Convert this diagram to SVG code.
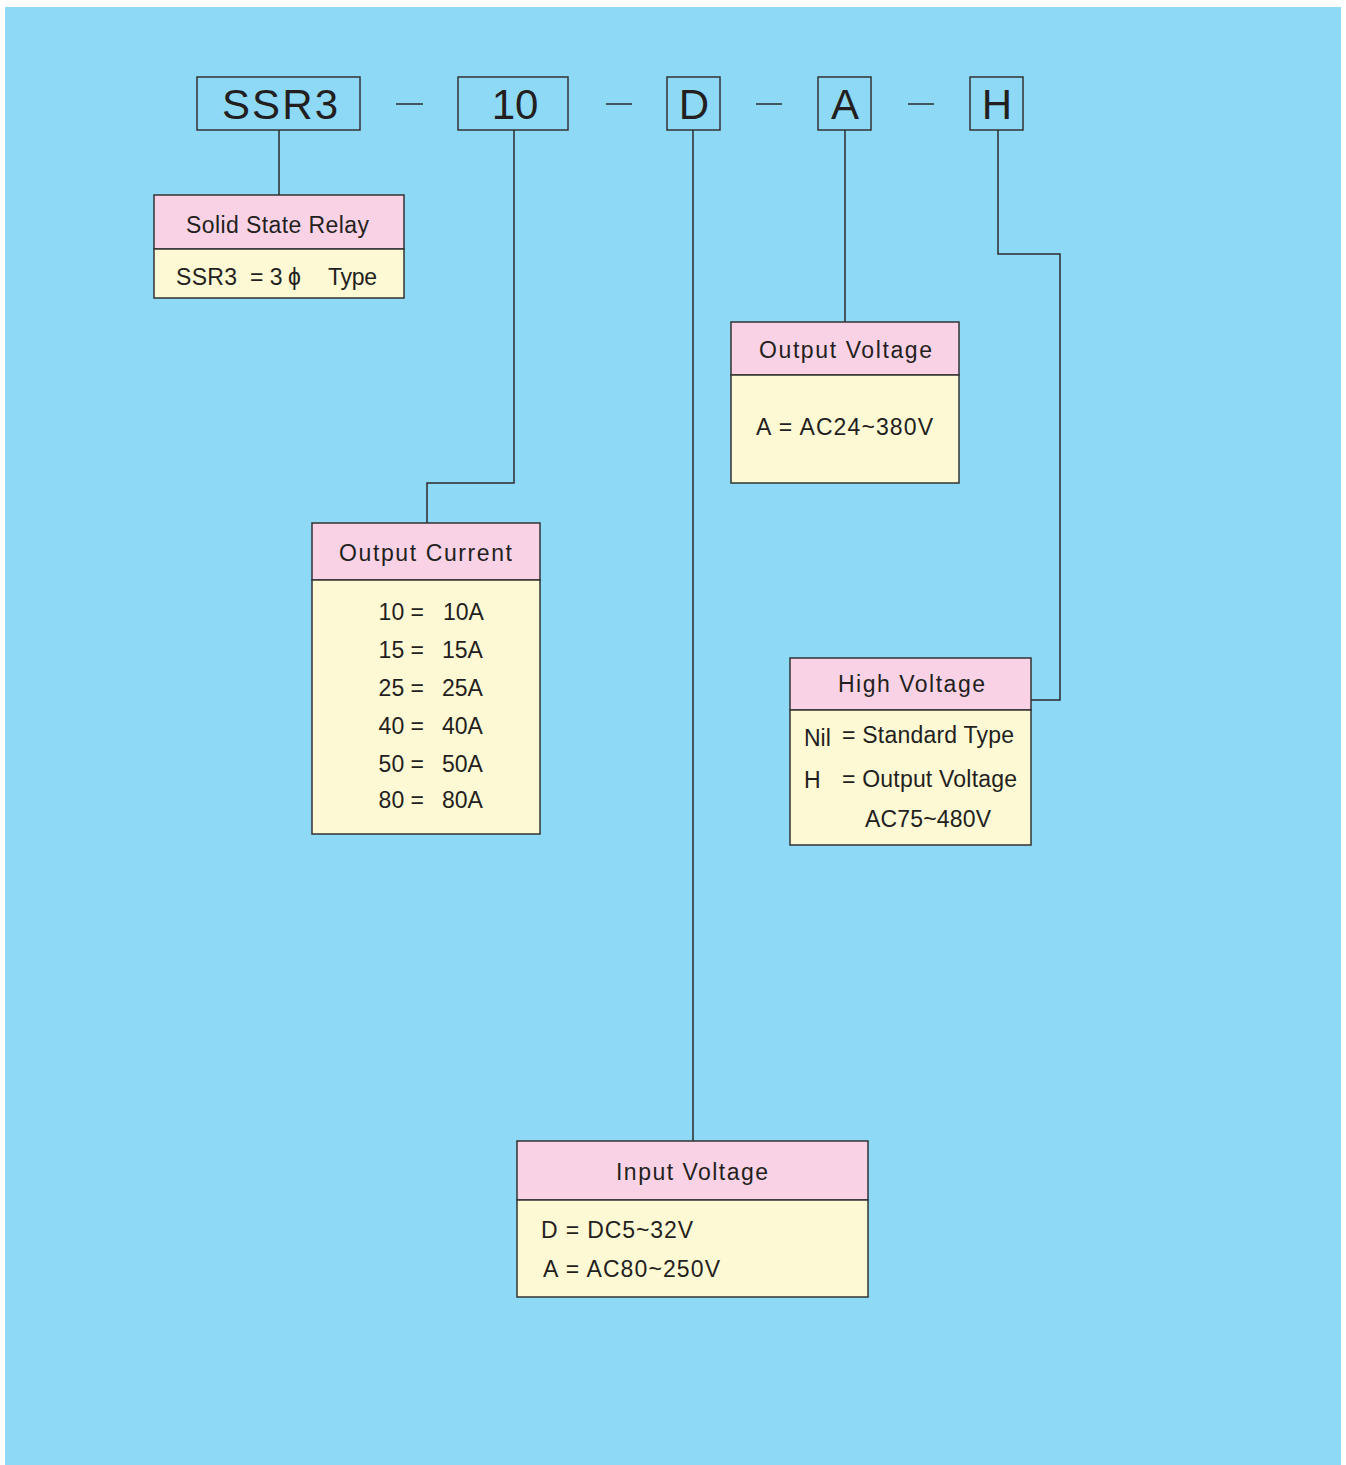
<svg xmlns="http://www.w3.org/2000/svg" width="1346" height="1465" viewBox="0 0 1346 1465">
<style>
.bg{fill:#8ed9f6}
.code{fill:none;stroke:#333;stroke-width:1.5}
.pink{fill:#f9d3e5;stroke:#333;stroke-width:1.5}
.yel{fill:#fef9d5;stroke:#333;stroke-width:1.5}
.ln{fill:none;stroke:#2b2b2b;stroke-width:1.5}
text{font-family:"Liberation Sans",Arial,sans-serif;fill:#231f20}
.big{font-size:42px;text-anchor:middle}
.h{font-size:23px}
.b{font-size:23px}
.e{text-anchor:end}
</style>
<rect x="0" y="0" width="1346" height="1465" fill="#ffffff"/>
<rect class="bg" x="5" y="7" width="1336" height="1458"/>

<g id="connectors">
<line class="ln" x1="396" y1="104" x2="423" y2="104"/>
<line class="ln" x1="606" y1="104" x2="632" y2="104"/>
<line class="ln" x1="756" y1="104" x2="782" y2="104"/>
<line class="ln" x1="908" y1="104" x2="934" y2="104"/>
<polyline class="ln" points="279,130 279,195"/>
<polyline class="ln" points="514,130 514,483 427,483 427,523"/>
<polyline class="ln" points="693,130 693,1141"/>
<polyline class="ln" points="845,130 845,322"/>
<polyline class="ln" points="998,130 998,254 1060,254 1060,700 1031,700"/>
</g>

<g id="code-ssr3">
<rect class="code" x="197" y="77" width="163" height="53"/>
<text class="big" x="280" y="119" textLength="116" lengthAdjust="spacing">SSR3</text>
</g>
<g id="code-10">
<rect class="code" x="458" y="77" width="110" height="53"/>
<text class="big" x="515" y="119">10</text>
</g>
<g id="code-d">
<rect class="code" x="667" y="77" width="53" height="53"/>
<text class="big" x="694" y="119">D</text>
</g>
<g id="code-a">
<rect class="code" x="818" y="77" width="53" height="53"/>
<text class="big" x="845" y="119">A</text>
</g>
<g id="code-h">
<rect class="code" x="970" y="77" width="53" height="53"/>
<text class="big" x="997" y="119">H</text>
</g>

<g id="solid-state-relay">
<rect class="pink" x="154" y="195" width="250" height="54"/>
<rect class="yel" x="154" y="249" width="250" height="49"/>
<text class="h" x="186" y="233" textLength="183" lengthAdjust="spacing">Solid State Relay</text>
<text class="b" x="176" y="285" textLength="61" lengthAdjust="spacing">SSR3</text>
<text class="b" x="250" y="285">= 3</text>
<text class="b" x="288" y="285">ϕ</text>
<text class="b" x="328" y="285" textLength="49" lengthAdjust="spacing">Type</text>
</g>

<g id="output-voltage">
<rect class="pink" x="731" y="322" width="228" height="53"/>
<rect class="yel" x="731" y="375" width="228" height="108"/>
<text class="h" x="759" y="358" textLength="173" lengthAdjust="spacing">Output Voltage</text>
<text class="b" x="756" y="435" textLength="177" lengthAdjust="spacing">A = AC24~380V</text>
</g>

<g id="output-current">
<rect class="pink" x="312" y="523" width="228" height="57"/>
<rect class="yel" x="312" y="580" width="228" height="254"/>
<text class="h" x="339" y="561" textLength="173" lengthAdjust="spacing">Output Current</text>
<text class="b e" x="424" y="620">10 =</text><text class="b" x="443" y="620">10A</text>
<text class="b e" x="424" y="658">15 =</text><text class="b" x="442" y="658">15A</text>
<text class="b e" x="424" y="696">25 =</text><text class="b" x="442" y="696">25A</text>
<text class="b e" x="424" y="734">40 =</text><text class="b" x="442" y="734">40A</text>
<text class="b e" x="424" y="772">50 =</text><text class="b" x="442" y="772">50A</text>
<text class="b e" x="424" y="808">80 =</text><text class="b" x="442" y="808">80A</text>
</g>

<g id="high-voltage">
<rect class="pink" x="790" y="658" width="241" height="52"/>
<rect class="yel" x="790" y="710" width="241" height="135"/>
<text class="h" x="838" y="692" textLength="147" lengthAdjust="spacing">High Voltage</text>
<text class="b" x="804" y="746">Nil</text>
<text class="b" x="842" y="743" textLength="172" lengthAdjust="spacing">= Standard Type</text>
<text class="b" x="804" y="788">H</text>
<text class="b" x="842" y="787" textLength="175" lengthAdjust="spacing">= Output Voltage</text>
<text class="b" x="865" y="827" textLength="126" lengthAdjust="spacing">AC75~480V</text>
</g>

<g id="input-voltage">
<rect class="pink" x="517" y="1141" width="351" height="59"/>
<rect class="yel" x="517" y="1200" width="351" height="97"/>
<text class="h" x="616" y="1180" textLength="152" lengthAdjust="spacing">Input Voltage</text>
<text class="b" x="541" y="1238" textLength="152" lengthAdjust="spacing">D = DC5~32V</text>
<text class="b" x="543" y="1277" textLength="177" lengthAdjust="spacing">A = AC80~250V</text>
</g>
</svg>
